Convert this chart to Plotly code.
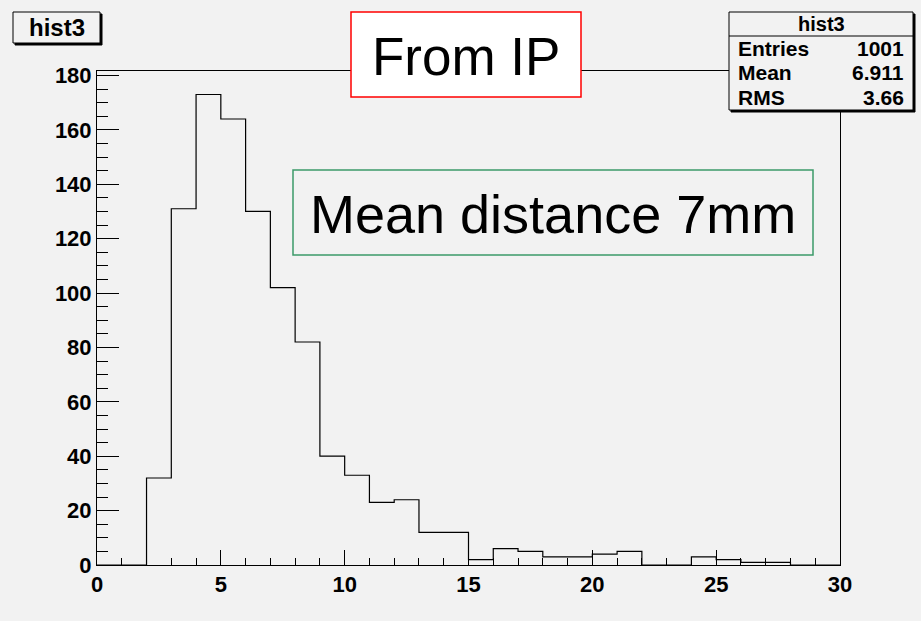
import plotly.graph_objects as go

# Data
bin_edges = list(range(0, 31))
counts = [0, 0, 32, 131, 173, 164, 130, 102, 82, 40,
          33, 23, 24, 12, 12, 2, 6, 5, 3, 3,
          4, 5, 0, 0, 3, 2, 1, 1, 0, 0]
x_ticks = [0, 5, 10, 15, 20, 25, 30]
y_ticks = [0, 20, 40, 60, 80, 100, 120, 140, 160, 180]
hist_name = "hist3"
stats_labels = ["Entries", "Mean", "RMS"]
stats_values = ["1001", "6.911", "3.66"]
title_text = "From IP"
note_text = "Mean distance 7mm"

W, H = 921, 621
L, R, T, B = 97, 81, 71, 56
PW, PH = W - L - R, H - T - B

def px(xp):
    return (xp - L) / PW

def py(yp):
    return (H - B - yp) / PH

BG = "#f2f2f2"
FONT = "Liberation Sans, Arial, sans-serif"

fig = go.Figure()
fig.add_trace(go.Scatter(
    x=bin_edges, y=counts + [counts[-1]],
    mode="lines", line=dict(color="black", width=1.2, shape="hv"),
    showlegend=False, hoverinfo="skip",
))

shapes = []
annotations = []

def rect(x0, y0, x1, y1, line_color="black", fill=BG, lw=1):
    shapes.append(dict(type="rect", xref="paper", yref="paper",
                       x0=px(x0), x1=px(x1), y0=py(y1), y1=py(y0),
                       line=dict(color=line_color, width=lw), fillcolor=fill, layer="above"))

def text(xp, yp, s, size, bold=False, xanchor="center", color="black"):
    annotations.append(dict(xref="paper", yref="paper", x=px(xp), y=py(yp),
                            text=f"<b>{s}</b>" if bold else s, showarrow=False,
                            xanchor=xanchor, yanchor="middle",
                            font=dict(family=FONT, size=size, color=color)))

# hist title box with shadow
rect(15, 14, 102, 45, line_color="black", fill="black")
rect(13, 12, 100, 43)
text(56.5, 28, hist_name, 24, bold=True)

# stats box with shadow
rect(731, 14, 915, 112, line_color="black", fill="black")
rect(729, 12, 913, 110)
shapes.append(dict(type="line", xref="paper", yref="paper",
                   x0=px(729), x1=px(913), y0=py(36), y1=py(36),
                   line=dict(color="black", width=1), layer="above"))
text(821, 24, hist_name, 20, bold=True)
for i, (lab, val) in enumerate(zip(stats_labels, stats_values)):
    yy = 48 + i * 24.5
    text(736, yy, lab, 21, bold=True, xanchor="left")
    text(906, yy, val, 21, bold=True, xanchor="right")

# From IP box
rect(351, 12, 581, 97, line_color="#ff0000", fill="white", lw=1.5)
text(466, 56, title_text, 53)

# Mean distance box
rect(293, 170, 813, 255, line_color="#3c9a6a", fill=BG, lw=1.5)
text(553, 214, note_text, 54)

fig.update_layout(
    width=W, height=H,
    margin=dict(l=L, r=R, t=T, b=B, pad=0),
    paper_bgcolor=BG, plot_bgcolor=BG,
    shapes=shapes, annotations=annotations,
    xaxis=dict(range=[0, 30], tickvals=x_ticks, ticktext=[str(v) for v in x_ticks],
               ticks="inside", ticklen=15, tickwidth=1, tickcolor="black",
               minor=dict(dtick=1, ticks="inside", ticklen=7, tickcolor="black", tickwidth=1),
               showline=True, linecolor="black", linewidth=1, mirror=True,
               showgrid=False, zeroline=False,
               tickfont=dict(family=FONT, size=22, color="black", weight="bold")),
    yaxis=dict(range=[0, 181.65], tickvals=y_ticks, ticktext=[str(v) for v in y_ticks],
               ticks="inside", ticklen=22, tickwidth=1, tickcolor="black",
               minor=dict(dtick=5, ticks="inside", ticklen=11, tickcolor="black", tickwidth=1),
               showline=True, linecolor="black", linewidth=1, mirror=True,
               showgrid=False, zeroline=False,
               tickfont=dict(family=FONT, size=22, color="black", weight="bold")),
)

fig.write_html("out.html")
